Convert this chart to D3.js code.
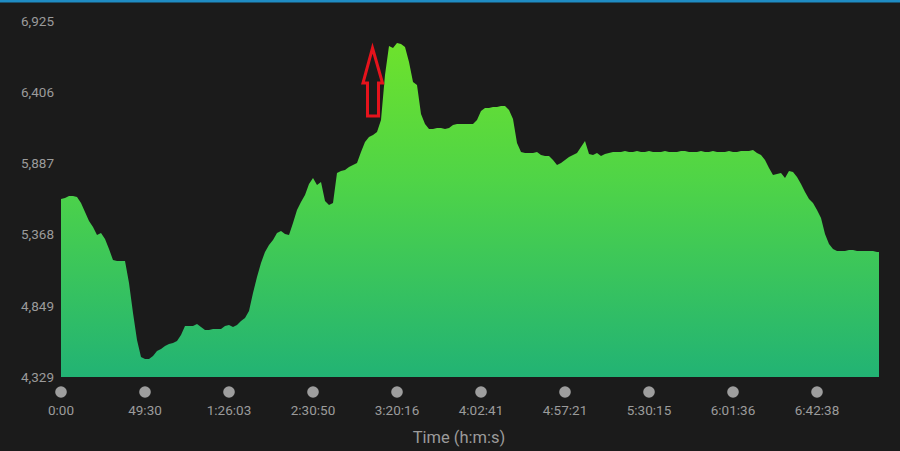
<!DOCTYPE html>
<html>
<head>
<meta charset="utf-8">
<script src="https://cdn.jsdelivr.net/npm/d3@7"></script>
<style>
  html, body { margin: 0; padding: 0; background: #1b1b1b; }
  svg { display: block; }
  .tick-label { font-family: Roboto, "Noto Sans", sans-serif; fill: #9b9b9b; }
</style>
</head>
<body>
<figure id="chart" style="margin:0"></figure>
<script>
// elevation samples, evenly spaced along the activity
var elevation = [
  5627, 5634, 5649, 5649, 5642, 5598, 5532, 5467, 5423, 5364,
  5379, 5335, 5262, 5182, 5175, 5175, 5175, 5014, 4796, 4599,
  4475, 4460, 4460, 4482, 4519, 4533, 4555, 4570, 4577, 4592,
  4635, 4701, 4701, 4701, 4715, 4694, 4672, 4672, 4679, 4679,
  4679, 4701, 4708, 4694, 4708, 4737, 4759, 4810, 4942, 5058,
  5160, 5241, 5292, 5328, 5379, 5394, 5372, 5364, 5452, 5547,
  5605, 5656, 5736, 5780, 5729, 5751, 5612, 5583, 5598, 5817,
  5831, 5838, 5860, 5875, 5889, 5970, 6043, 6079, 6094, 6116,
  6203, 6531, 6743, 6728, 6765, 6757, 6735, 6626, 6480, 6458,
  6247, 6174, 6137, 6137, 6145, 6145, 6137, 6145, 6167, 6174,
  6174, 6174, 6174, 6174, 6203, 6269, 6291, 6291, 6298, 6298,
  6305, 6305, 6276, 6210, 6035, 5970, 5962, 5962, 5962, 5970,
  5948, 5941, 5941, 5911, 5875, 5889, 5911, 5933, 5948, 5962,
  6006, 6050, 5955, 5948, 5962, 5941, 5955, 5962, 5970, 5970,
  5970, 5977, 5970, 5970, 5977, 5970, 5970, 5977, 5970, 5970,
  5970, 5977, 5970, 5970, 5970, 5977, 5977, 5970, 5970, 5970,
  5977, 5970, 5970, 5977, 5970, 5970, 5970, 5977, 5970, 5970,
  5977, 5977, 5977, 5984, 5962, 5948, 5911, 5853, 5802, 5809,
  5816, 5780, 5831, 5824, 5787, 5736, 5678, 5627, 5598, 5547,
  5488, 5372, 5299, 5262, 5248, 5248, 5248, 5255, 5255, 5248,
  5248, 5248, 5248, 5248, 5241
];

var yTicks = [4329, 4849, 5368, 5887, 6406, 6925];
var yTickLabels = ["4,329", "4,849", "5,368", "5,887", "6,406", "6,925"];

// x ticks sit every 21 samples
var xTickIdx = [0, 21, 42, 63, 84, 105, 126, 147, 168, 189];
var xTickLabels = ["0:00", "49:30", "1:26:03", "2:30:50", "3:20:16",
                   "4:02:41", "4:57:21", "5:30:15", "6:01:36", "6:42:38"];

var w = 900, h = 451;
var plot = {left: 61, right: 879, top: 21, bottom: 377};

var svg = d3.select("#chart").append("svg")
  .attr("width", w)
  .attr("height", h);

svg.append("rect").attr("width", w).attr("height", h).attr("fill", "#1b1b1b");

// blue strip at the very top
svg.append("rect")
  .attr("x", 0).attr("y", 0)
  .attr("width", w).attr("height", 2.5)
  .attr("fill", "#1f8cc4");

var x = d3.scaleLinear()
  .domain([0, elevation.length - 0.5])
  .range([plot.left, plot.right]);

var y = d3.scaleLinear()
  .domain([yTicks[0], yTicks[yTicks.length - 1]])
  .range([plot.bottom, plot.top]);

var defs = svg.append("defs");
var grad = defs.append("linearGradient")
  .attr("id", "elevGrad")
  .attr("gradientUnits", "userSpaceOnUse")
  .attr("x1", 0).attr("x2", 0)
  .attr("y1", y(6925)).attr("y2", y(4329));
grad.append("stop").attr("offset", "0%").attr("stop-color", "#72e428");
grad.append("stop").attr("offset", "45%").attr("stop-color", "#4fd447");
grad.append("stop").attr("offset", "100%").attr("stop-color", "#22b374");

var pts = elevation.map(function(v, i){ return [i, v]; });
pts.push([elevation.length - 0.5, elevation[elevation.length - 1]]);

var area = d3.area()
  .x(function(d){ return x(d[0]); })
  .y0(y(yTicks[0]))
  .y1(function(d){ return y(d[1]); });

svg.append("path")
  .datum(pts)
  .attr("d", area)
  .attr("fill", "url(#elevGrad)");

// y axis labels
var yAxis = d3.axisLeft(y)
  .tickValues(yTicks)
  .tickSize(0)
  .tickPadding(0)
  .tickFormat(function(d, i){ return yTickLabels[i]; });

var yG = svg.append("g")
  .attr("transform", "translate(" + (plot.left - 7) + ",0)")
  .call(yAxis);
yG.select(".domain").remove();
yG.selectAll("text")
  .attr("class", "tick-label")
  .attr("font-size", 13.5)
  .attr("fill", "#9b9b9b");

// x axis: grey dots with labels
var xG = svg.append("g").attr("class", "xAxis");
var xt = xG.selectAll("g")
  .data(xTickIdx)
  .enter()
  .append("g")
  .attr("transform", function(d){ return "translate(" + x(d) + ",0)"; });

xt.append("circle")
  .attr("cy", 392)
  .attr("r", 5.8)
  .attr("fill", "#9e9e9e");

xt.append("text")
  .attr("class", "tick-label")
  .attr("y", 415)
  .attr("text-anchor", "middle")
  .attr("font-size", 13.5)
  .text(function(d, i){ return xTickLabels[i]; });

svg.append("text")
  .attr("class", "tick-label")
  .attr("x", 459)
  .attr("y", 443)
  .attr("text-anchor", "middle")
  .attr("font-size", 16.5)
  .attr("fill", "#8e8e8e")
  .text("Time (h:m:s)");

// red hollow arrow annotation
var ax = 372.5;
var arrow = d3.path();
arrow.moveTo(ax, 48);
arrow.lineTo(ax + 10, 83);
arrow.lineTo(ax + 6, 83);
arrow.lineTo(ax + 6, 116);
arrow.lineTo(ax - 5, 116);
arrow.lineTo(ax - 5, 83);
arrow.lineTo(ax - 9.5, 83);
arrow.closePath();

svg.append("path")
  .attr("d", arrow.toString())
  .attr("fill", "none")
  .attr("stroke", "#e5131c")
  .attr("stroke-width", 3)
  .attr("stroke-linejoin", "miter");
</script>
</body>
</html>
